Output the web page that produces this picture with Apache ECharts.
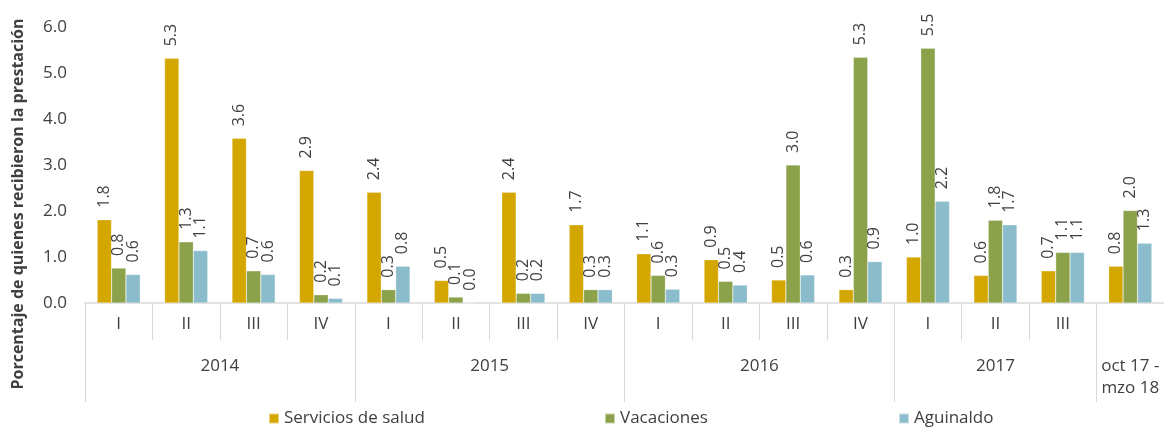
<!DOCTYPE html>
<html>
<head>
<meta charset="utf-8">
<script src="https://cdn.jsdelivr.net/npm/echarts@6/dist/echarts.min.js"></script>
<style>
html,body{margin:0;padding:0;background:#fff;}
#chart{width:1164px;height:427px;}
</style>
</head>
<body>
<div id="chart"></div>
<script>
const quarters = ['I','II','III','IV','I','II','III','IV','I','II','III','IV','I','II','III',''];
const yearLabels = ['2014','2015','2016','2017','oct 17 -\nmzo 18'];
const yearCenters = [2, 6, 10, 13.5, 15.5];
const yearBounds = [0, 4, 8, 12, 15, 16];
const salud = [1.81,5.32,3.58,2.88,2.41,0.49,2.41,1.70,1.07,0.94,0.50,0.29,1.00,0.60,0.70,0.80];
const vacaciones = [0.76,1.33,0.70,0.18,0.29,0.13,0.21,0.29,0.60,0.47,3.00,5.34,5.54,1.80,1.10,2.01];
const aguinaldo = [0.62,1.14,0.62,0.10,0.80,0.00,0.21,0.29,0.30,0.39,0.61,0.90,2.21,1.70,1.10,1.30];
const yTicks = [0,1,2,3,4,5,6];

const FONT = 'Open Sans';
const TXT = '#404040';
const GRID = '#d9d9d9';
const colors = {salud:'#D4A700', vac:'#8BA24B', agu:'#8BBCCB'};

const chart = echarts.init(document.getElementById('chart'));
const labelCfg = {
  show: true, position: 'top', rotate: 90, align: 'left', verticalAlign: 'middle',
  distance: 12, color: TXT, fontFamily: FONT, fontSize: 16,
  formatter: p => p.value.toFixed(1)
};
function bar(name, data, color){
  return {name, type:'bar', data, xAxisIndex:0, yAxisIndex:0,
    barGap:'0%', barCategoryGap:'36%',
    itemStyle:{color, borderColor:'rgba(255,255,255,0.5)', borderWidth:0.5},
    label: labelCfg};
}
const legendBase = {bottom: -5, icon:'rect', itemWidth:10, itemHeight:10, itemGap:6,
  textStyle:{color:TXT, fontFamily:FONT, fontSize:17}, selectedMode:false};
chart.setOption({
  animation:false,
  textStyle:{fontFamily:FONT},
  grid:{left:85, right:-2, top:27, bottom:124, containLabel:false},
  xAxis:[
    {type:'category', data:quarters, position:'bottom',
     axisLine:{show:true, lineStyle:{color:GRID, width:1.5}},
     axisTick:{show:true, length:37, lineStyle:{color:GRID}, alignWithLabel:false},
     axisLabel:{color:TXT, fontFamily:FONT, fontSize:17, margin:13, interval:0}},
    {type:'value', min:0, max:16, position:'bottom', gridIndex:0,
     axisLine:{show:false},
     axisTick:{show:true, length:99, lineStyle:{color:GRID}, customValues:yearBounds},
     axisLabel:{show:true, customValues:yearCenters, color:TXT, fontFamily:FONT, fontSize:17,
       margin:52, lineHeight:22, verticalAlign:'top',
       formatter: v => { const i = yearCenters.indexOf(v); return i >= 0 ? yearLabels[i] : ''; }},
     splitLine:{show:false}}
  ],
  yAxis:{type:'value', min:yTicks[0], max:yTicks[yTicks.length-1], interval:1,
    axisLine:{show:false}, axisTick:{show:false}, splitLine:{show:false},
    axisLabel:{color:TXT, fontFamily:FONT, fontSize:17, margin:18, formatter: v => v.toFixed(1)}},
  legend:[
    Object.assign({}, legendBase, {left:263, data:['Servicios de salud']}),
    Object.assign({}, legendBase, {left:599, data:['Vacaciones']}),
    Object.assign({}, legendBase, {left:893, data:['Aguinaldo']})
  ],
  graphic:[{type:'text', x:18, y:204, rotation:Math.PI/2,
    style:{text:'Porcentaje de quienes recibieron la prestación', fill:TXT,
      font:'bold 16px "Open Sans"', align:'center', verticalAlign:'middle'}}],
  series:[
    bar('Servicios de salud', salud, colors.salud),
    bar('Vacaciones', vacaciones, colors.vac),
    bar('Aguinaldo', aguinaldo, colors.agu)
  ]
});
</script>
</body>
</html>
